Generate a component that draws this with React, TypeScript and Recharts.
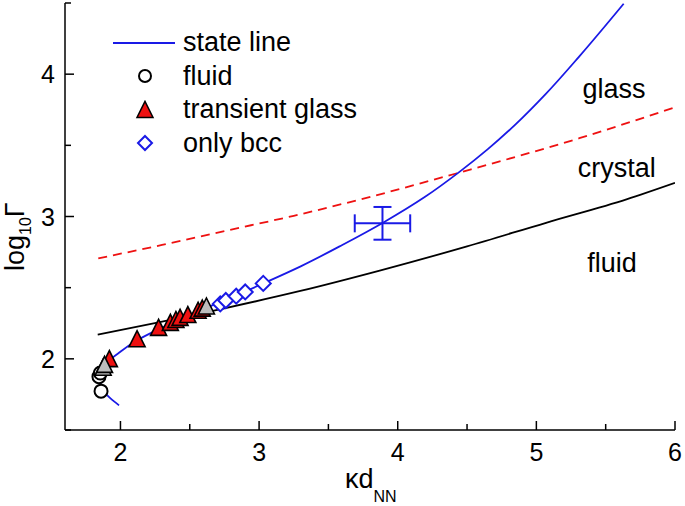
import React from 'react';
import { ScatterChart, Scatter, XAxis, YAxis, ErrorBar, ReferenceDot, Legend } from 'recharts';

// ---- data ----
const stateLineKd = [1.99, 1.93, 1.88, 1.855, 1.85, 1.87, 1.92, 2.0, 2.12, 2.28, 2.5, 2.75, 3.03, 3.3, 3.6, 3.9, 4.2, 4.45, 4.65, 4.85, 5.07, 5.31, 5.63];
const stateLineLogG = [1.673, 1.72, 1.77, 1.83, 1.88, 1.935, 1.99, 2.05, 2.13, 2.21, 2.31, 2.41, 2.53, 2.65, 2.8, 2.96, 3.14, 3.317, 3.473, 3.647, 3.863, 4.125, 4.495];

const fluidLineKd = [1.836, 2.275, 2.75, 3.29, 3.87, 4.5, 5.07, 5.65, 6.0];
const fluidLineLogG = [2.17, 2.256, 2.355, 2.475, 2.62, 2.79, 2.956, 3.12, 3.236];

const glassLineKd = [1.84, 2.3, 2.76, 3.25, 3.73, 4.45, 5.31, 6.0];
const glassLineLogG = [2.706, 2.8, 2.9, 3.005, 3.12, 3.31, 3.55, 3.767];

const fluidKd = [1.86, 1.845, 1.855];
const fluidLogG = [1.773, 1.875, 1.9];

const transientKd = [1.92, 2.12, 2.275, 2.36, 2.4, 2.43, 2.486, 2.56, 2.59];
const transientLogG = [1.99, 2.13, 2.21, 2.245, 2.265, 2.28, 2.3, 2.33, 2.345];

const mixedKd = [1.875, 1.885, 2.62];
const mixedLogG = [1.93, 1.95, 2.36];

const bccKd = [2.72, 2.76, 2.835, 2.9, 3.03];
const bccLogG = [2.386, 2.41, 2.44, 2.47, 2.53];

const errKd = [3.89];
const errLogG = [2.952];
const errKdSize = [0.2];
const errLogGSize = [0.115];

const xTicks = [2, 2.5, 3, 3.5, 4, 4.5, 5, 5.5, 6];
const yTicks = [1.5, 2, 2.5, 3, 3.5, 4, 4.5];
const xLabeled = [2, 3, 4, 5, 6];
const yLabeled = [2, 3, 4];

const regionText = ['glass', 'crystal', 'fluid'];
const regionKd = [5.56, 5.58, 5.545];
const regionLogG = [3.9, 3.343, 2.68];

const legendLabels = ['state line', 'fluid', 'transient glass', 'only bcc'];

// ---- styles ----
const FONT = '"Liberation Sans", Arial, Helvetica, sans-serif';
const BLUE = '#1a1ae6';
const RED = '#ee1111';

const pts = (xs: number[], ys: number[]) => xs.map((x, i) => ({ x, y: ys[i] }));
const errData = errKd.map((x, i) => ({ x, y: errLogG[i], ex: errKdSize[i], ey: errLogGSize[i] }));

const Empty = () => <g />;

const Circle = (p: any) => <circle cx={p.cx} cy={p.cy} r={6.5} fill="#fff" stroke="#000" strokeWidth={2} />;
const triPts = (cx: number, cy: number, s: number) =>
  `${cx},${cy - s * 0.6} ${cx - s * 0.5},${cy + s * 0.4} ${cx + s * 0.5},${cy + s * 0.4}`;
const RedTri = (p: any) => <polygon points={triPts(p.cx, p.cy, 16)} fill={RED} stroke="#000" strokeWidth={1.6} strokeLinejoin="miter" />;
const GrayTri = (p: any) => <polygon points={triPts(p.cx, p.cy, 16)} fill="#bdbdbd" stroke="#000" strokeWidth={1.6} />;
const Diamond = (p: any) => (
  <polygon points={`${p.cx},${p.cy - 7.5} ${p.cx + 7.5},${p.cy} ${p.cx},${p.cy + 7.5} ${p.cx - 7.5},${p.cy}`} fill="#fff" stroke={BLUE} strokeWidth={2} />
);

const BottomTick = (p: any) => {
  const v = p.payload.value;
  const major = xLabeled.includes(v);
  return (
    <g>
      <line x1={p.x} x2={p.x} y1={p.y} y2={p.y - (major ? 9 : 6)} stroke="#000" strokeWidth={1.5} />
      {major && (
        <text x={p.x} y={p.y + 31} textAnchor="middle" fontSize={25} fontFamily={FONT} fill="#000">{v}</text>
      )}
    </g>
  );
};
const TopTick = (p: any) => {
  const v = p.payload.value;
  const major = xLabeled.includes(v);
  return <line x1={p.x} x2={p.x} y1={p.y} y2={p.y + (major ? 9 : 6)} stroke="#000" strokeWidth={1.5} />;
};
const LeftTick = (p: any) => {
  const v = p.payload.value;
  const major = yLabeled.includes(v);
  return (
    <g>
      <line x1={p.x} x2={p.x + (major ? 9 : 6)} y1={p.y} y2={p.y} stroke="#000" strokeWidth={1.5} />
      {major && (
        <text x={p.x - 10} y={p.y + 9} textAnchor="end" fontSize={25} fontFamily={FONT} fill="#000">{v}</text>
      )}
    </g>
  );
};
const RightTick = (p: any) => {
  const v = p.payload.value;
  const major = yLabeled.includes(v);
  return <line x1={p.x} x2={p.x - (major ? 9 : 6)} y1={p.y} y2={p.y} stroke="#000" strokeWidth={1.5} />;
};

const XLabel = () => (
  <text x={345} y={488} fontSize={27} fontFamily={FONT} fill="#000">
    κd<tspan fontSize={16} dy={14}>NN</tspan>
  </text>
);
const YLabel = () => (
  <text transform="translate(24, 271) rotate(-90)" fontSize={27} fontFamily={FONT} fill="#000">
    log<tspan fontSize={16} dy={7}>10</tspan><tspan dy={-7}>Γ</tspan>
  </text>
);

const legendIcons = [
  <svg width={70} height={20} key="l"><line x1={3} x2={65} y1={10} y2={10} stroke={BLUE} strokeWidth={2} /></svg>,
  <svg width={70} height={20} key="c"><circle cx={35} cy={10} r={6} fill="#fff" stroke="#000" strokeWidth={2} /></svg>,
  <svg width={70} height={20} key="t"><polygon points={triPts(35, 11, 16)} fill={RED} stroke="#000" strokeWidth={1.5} /></svg>,
  <svg width={70} height={20} key="d"><polygon points="35,3 42,10 35,17 28,10" fill="#fff" stroke={BLUE} strokeWidth={2} /></svg>,
];

const LegendContent = () => (
  <div style={{ fontFamily: FONT, fontSize: 27, color: '#000' }}>
    {legendLabels.map((lab, i) => (
      <div key={lab} style={{ display: 'flex', alignItems: 'center', height: 33.5 }}>
        <div style={{ width: 70, display: 'flex', alignItems: 'center' }}>{legendIcons[i]}</div>
        <span style={{ marginLeft: 3, lineHeight: '33px' }}>{lab}</span>
      </div>
    ))}
  </div>
);

export default function App() {
  return (
    <div style={{ position: 'absolute', left: 0, top: 0, width: 685, height: 506, background: '#fff', fontFamily: FONT }}>
      <ScatterChart width={685} height={506} margin={{ top: 3, right: 10, bottom: 0, left: 0 }}>
        <XAxis type="number" dataKey="x" domain={[1.6, 6]} ticks={xTicks} interval={0} allowDataOverflow
          height={76} tickSize={0} tickMargin={0} tickLine={false} tick={BottomTick}
          axisLine={{ stroke: '#000', strokeWidth: 1.5 }} label={<XLabel />} />
        <XAxis xAxisId="top" orientation="top" type="number" dataKey="x" domain={[1.6, 6]} ticks={xTicks} interval={0}
          allowDataOverflow height={0} tickSize={0} tickMargin={0} tickLine={false} tick={TopTick}
          axisLine={{ stroke: '#000', strokeWidth: 1.5 }} />
        <YAxis type="number" dataKey="y" domain={[1.5, 4.5]} ticks={yTicks} interval={0} allowDataOverflow
          width={65} tickSize={0} tickMargin={0} tickLine={false} tick={LeftTick}
          axisLine={{ stroke: '#000', strokeWidth: 1.5 }} label={<YLabel />} />
        <YAxis yAxisId="right" orientation="right" type="number" dataKey="y" domain={[1.5, 4.5]} ticks={yTicks} interval={0}
          allowDataOverflow width={0} tickSize={0} tickMargin={0} tickLine={false} tick={RightTick}
          axisLine={{ stroke: '#000', strokeWidth: 1.5 }} />

        <Scatter xAxisId="top" yAxisId="right" data={pts(errKd, errLogG)} shape={Empty} isAnimationActive={false} legendType="none" />

        <Scatter data={pts(fluidLineKd, fluidLineLogG)} shape={Empty} line={{ stroke: '#000', strokeWidth: 1.8 }}
          lineJointType="monotoneX" isAnimationActive={false} legendType="none" />
        <Scatter data={pts(glassLineKd, glassLineLogG)} shape={Empty}
          line={{ stroke: RED, strokeWidth: 1.8, strokeDasharray: '9 6' }}
          lineJointType="monotoneX" isAnimationActive={false} legendType="none" />
        <Scatter data={pts(stateLineKd, stateLineLogG)} shape={Empty} line={{ stroke: BLUE, strokeWidth: 1.8 }}
          lineJointType="monotoneY" isAnimationActive={false} legendType="none" />

        <Scatter data={errData} shape={Empty} isAnimationActive={false} legendType="none">
          <ErrorBar dataKey="ex" direction="x" width={9} stroke={BLUE} strokeWidth={2} isAnimationActive={false} />
          <ErrorBar dataKey="ey" direction="y" width={9} stroke={BLUE} strokeWidth={2} isAnimationActive={false} />
        </Scatter>

        <Scatter data={pts(fluidKd, fluidLogG)} shape={Circle} isAnimationActive={false} />
        <Scatter data={pts(transientKd, transientLogG)} shape={RedTri} isAnimationActive={false} />
        <Scatter data={pts(mixedKd, mixedLogG)} shape={GrayTri} isAnimationActive={false} legendType="none" />
        <Scatter data={pts(bccKd, bccLogG)} shape={Diamond} isAnimationActive={false} />

        {regionText.map((t, i) => (
          <ReferenceDot key={t} x={regionKd[i]} y={regionLogG[i]} r={0} fill="none" stroke="none" ifOverflow="visible"
            label={{ value: t, position: 'center', fontSize: 27, fill: '#000', fontFamily: FONT }} />
        ))}

        <Legend layout="vertical" align="center" verticalAlign="middle" content={<LegendContent />}
          wrapperStyle={{ position: 'absolute', left: 110, top: 26, width: 260, height: 140 }} />
      </ScatterChart>
    </div>
  );
}
